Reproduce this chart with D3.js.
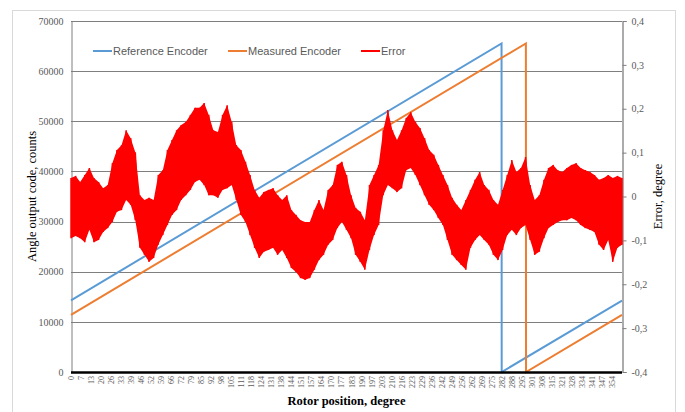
<!DOCTYPE html>
<html>
<head>
<meta charset="utf-8">
<script src="https://cdn.jsdelivr.net/npm/d3@7"></script>
<style>
  body { margin: 0; background: #fff; }
  svg { display: block; }
</style>
</head>
<body>
<script>
// encoder ramps (degree -> output code)
var refDeg = [0, 281.3, 281.4, 360];
var refCode = [14300, 65535, 0, 14250];
var measDeg = [0, 297.2, 297.3, 360];
var measCode = [11400, 65535, 0, 11400];

// error band, every 3 degrees (upper / lower envelope)
var errDeg = d3.range(0, 361, 3);
var errHi = [0.042, 0.047, 0.033, 0.049, 0.065, 0.042, 0.033, 0.019, 0.026, 0.076,
  0.106, 0.117, 0.151, 0.133, 0.101, 0.003, -0.008, -0.003, -0.008, 0.049,
  0.060, 0.106, 0.129, 0.151, 0.163, 0.170, 0.186, 0.202, 0.202, 0.213,
  0.186, 0.151, 0.147, 0.186, 0.208, 0.170, 0.117, 0.106, 0.079, 0.049,
  0.015, -0.003, 0.010, 0.015, 0.019, 0.003, -0.008, 0.003, -0.031, -0.042,
  -0.054, -0.058, -0.058, -0.031, -0.008, -0.031, 0.015, 0.026, 0.072, 0.079,
  0.049, 0.003, -0.026, -0.035, -0.054, 0.026, 0.049, 0.072, 0.151, 0.197,
  0.151, 0.129, 0.151, 0.179, 0.192, 0.170, 0.156, 0.133, 0.106, 0.095,
  0.072, 0.049, 0.026, -0.003, -0.019, -0.031, -0.008, 0.015, 0.038, 0.056,
  0.026, 0.015, -0.008, -0.019, 0.015, 0.049, 0.083, 0.056, 0.065, 0.090,
  0.026, -0.008, 0.003, 0.038, 0.065, 0.072, 0.060, 0.056, 0.065, 0.072,
  0.076, 0.065, 0.060, 0.056, 0.049, 0.038, 0.042, 0.049, 0.042, 0.047, 0.042];
var errLo = [-0.095, -0.090, -0.095, -0.104, -0.076, -0.104, -0.099, -0.081, -0.072, -0.058,
  -0.035, -0.031, -0.008, -0.019, -0.054, -0.117, -0.133, -0.149, -0.140, -0.110,
  -0.088, -0.065, -0.042, -0.031, -0.008, 0.003, 0.015, 0.033, 0.038, 0.026,
  0.003, 0.003, -0.003, 0.015, 0.019, 0.026, -0.008, -0.042, -0.058, -0.088,
  -0.117, -0.140, -0.126, -0.122, -0.117, -0.133, -0.122, -0.140, -0.163, -0.172,
  -0.186, -0.190, -0.186, -0.167, -0.145, -0.133, -0.110, -0.099, -0.072, -0.058,
  -0.076, -0.095, -0.133, -0.149, -0.167, -0.122, -0.088, -0.065, 0.003, 0.026,
  0.019, 0.010, 0.019, 0.060, 0.065, 0.049, 0.026, 0.003, -0.019, -0.031,
  -0.049, -0.065, -0.099, -0.133, -0.145, -0.156, -0.167, -0.117, -0.099, -0.088,
  -0.099, -0.110, -0.133, -0.145, -0.122, -0.088, -0.076, -0.088, -0.072, -0.065,
  -0.099, -0.133, -0.126, -0.095, -0.072, -0.065, -0.058, -0.054, -0.054, -0.049,
  -0.054, -0.065, -0.072, -0.076, -0.081, -0.110, -0.122, -0.099, -0.149, -0.117, -0.110];

var xLabels = ["0","7","13","20","26","33","39","46","52","59","66","72","79","85","92","98",
  "105","111","118","124","131","138","144","151","157","164","170","177","183","190","197",
  "203","210","216","223","229","236","242","249","256","262","269","275","282","288","295",
  "301","308","315","321","328","334","341","347","354"];
var leftTicks = [0, 10000, 20000, 30000, 40000, 50000, 60000, 70000];
var rightTicks = [-0.4, -0.3, -0.2, -0.1, 0, 0.1, 0.2, 0.3, 0.4];
var seriesNames = ["Reference Encoder", "Measured Encoder", "Error"];
var seriesColors = ["#5B9BD5", "#ED7D31", "#FF0000"];

var W = 685, H = 412;
var L = 71, R = 622, T = 21, B = 372;

var svg = d3.select("body").append("svg")
    .attr("width", W)
    .attr("height", H);

svg.append("rect")
    .attr("x", 12.5).attr("y", 10.5)
    .attr("width", 663).attr("height", 405)
    .attr("fill", "#fff")
    .attr("stroke", "#d9d9d9");

var x = d3.scaleLinear().domain([0, 360]).range([L, R]);
var y = d3.scaleLinear().domain([0, 70000]).range([B, T]);
var y2 = d3.scaleLinear().domain([-0.4, 0.4]).range([B, T]);

// gridlines
svg.append("g")
    .selectAll("line")
    .data(leftTicks.slice(1))
    .enter().append("line")
    .attr("x1", L).attr("x2", R)
    .attr("y1", function(d){ return Math.round(y(d)) + 0.5; })
    .attr("y2", function(d){ return Math.round(y(d)) + 0.5; })
    .attr("stroke", "#7f7f7f")
    .attr("stroke-width", 1);

// left axis
var gl = svg.append("g")
    .attr("transform", "translate(" + (L + 0.5) + ",0)")
    .call(d3.axisLeft(y).tickValues(leftTicks).tickSize(0).tickPadding(8).tickFormat(d3.format("d")));
gl.select(".domain").attr("stroke", "#7f7f7f");
gl.selectAll("text")
    .attr("fill", "#595959")
    .style("font-family", "'Liberation Serif', serif")
    .style("font-size", "10px");

// right axis
var gr = svg.append("g")
    .attr("transform", "translate(" + (R + 0.5) + ",0)")
    .call(d3.axisRight(y2).tickValues(rightTicks).tickSize(4).tickPadding(5)
        .tickFormat(function(d){
            if (Math.abs(d) < 1e-9) return "0";
            return d3.format(".1f")(d).replace(".", ",").replace("\u2212", "-");
        }));
gr.select(".domain").attr("stroke", "#595959");
gr.selectAll(".tick line").attr("stroke", "#7f7f7f");
gr.selectAll("text")
    .attr("fill", "#595959")
    .style("font-family", "'Liberation Serif', serif")
    .style("font-size", "10px");

// encoder lines
var lineLeft = d3.line()
    .x(function(d){ return x(d[0]); })
    .y(function(d){ return y(d[1]); });

svg.append("path")
    .datum(d3.zip(refDeg, refCode))
    .attr("d", lineLeft)
    .attr("fill", "none")
    .attr("stroke", seriesColors[0])
    .attr("stroke-width", 2);

svg.append("path")
    .datum(d3.zip(measDeg, measCode))
    .attr("d", lineLeft)
    .attr("fill", "none")
    .attr("stroke", seriesColors[1])
    .attr("stroke-width", 2);

// error band
var errData = errDeg.map(function(d, i){ return {deg: d, hi: errHi[i], lo: errLo[i]}; });

svg.append("path")
    .datum(errData)
    .attr("d", d3.area()
        .x(function(d){ return x(d.deg); })
        .y0(function(d){ return y2(d.lo); })
        .y1(function(d){ return y2(d.hi); }))
    .attr("fill", seriesColors[2]);

var zig = [];
errData.forEach(function(d){
    zig.push([d.deg, d.lo]);
    zig.push([d.deg, d.hi]);
});
svg.append("path")
    .datum(zig)
    .attr("d", d3.line()
        .x(function(d){ return x(d[0]); })
        .y(function(d){ return y2(d[1]); }))
    .attr("fill", "none")
    .attr("stroke", seriesColors[2])
    .attr("stroke-width", 1.5);

// bottom axis
svg.append("line")
    .attr("x1", L).attr("x2", R)
    .attr("y1", B + 0.5).attr("y2", B + 0.5)
    .attr("stroke", "#000")
    .attr("stroke-width", 2.5);

var step = 360 / xLabels.length;
svg.append("g")
    .selectAll("text")
    .data(xLabels)
    .enter().append("text")
    .attr("transform", function(d, i){
        return "translate(" + (x(i * step) + 3) + "," + (B + 4) + ") rotate(-90)";
    })
    .attr("text-anchor", "end")
    .attr("fill", "#595959")
    .style("font-family", "'Liberation Serif', serif")
    .style("font-size", "8px")
    .text(function(d){ return d; });

// axis titles
svg.append("text")
    .attr("transform", "translate(36," + ((T + B) / 2) + ") rotate(-90)")
    .attr("text-anchor", "middle")
    .style("font-family", "'Liberation Serif', serif")
    .style("font-size", "12.5px")
    .attr("fill", "#000")
    .text("Angle output code, counts");

svg.append("text")
    .attr("transform", "translate(662," + ((T + B) / 2) + ") rotate(-90)")
    .attr("text-anchor", "middle")
    .style("font-family", "'Liberation Serif', serif")
    .style("font-size", "12.5px")
    .attr("fill", "#000")
    .text("Error, degree");

svg.append("text")
    .attr("x", (L + R) / 2)
    .attr("y", 405)
    .attr("text-anchor", "middle")
    .style("font-family", "'Liberation Serif', serif")
    .style("font-size", "12.5px")
    .style("font-weight", "bold")
    .attr("fill", "#000")
    .text("Rotor position, degree");

// legend
var legX = [93, 228, 361];
var leg = svg.append("g")
    .selectAll("g")
    .data(seriesNames)
    .enter().append("g")
    .attr("transform", function(d, i){ return "translate(" + legX[i] + ",51)"; });
leg.append("line")
    .attr("x1", 0).attr("x2", 19)
    .attr("stroke", function(d, i){ return seriesColors[i]; })
    .attr("stroke-width", 2);
leg.append("text")
    .attr("x", 20)
    .attr("y", 4)
    .attr("fill", "#595959")
    .style("font-family", "'Liberation Sans', sans-serif")
    .style("font-size", "11px")
    .text(function(d){ return d; });
</script>
</body>
</html>
